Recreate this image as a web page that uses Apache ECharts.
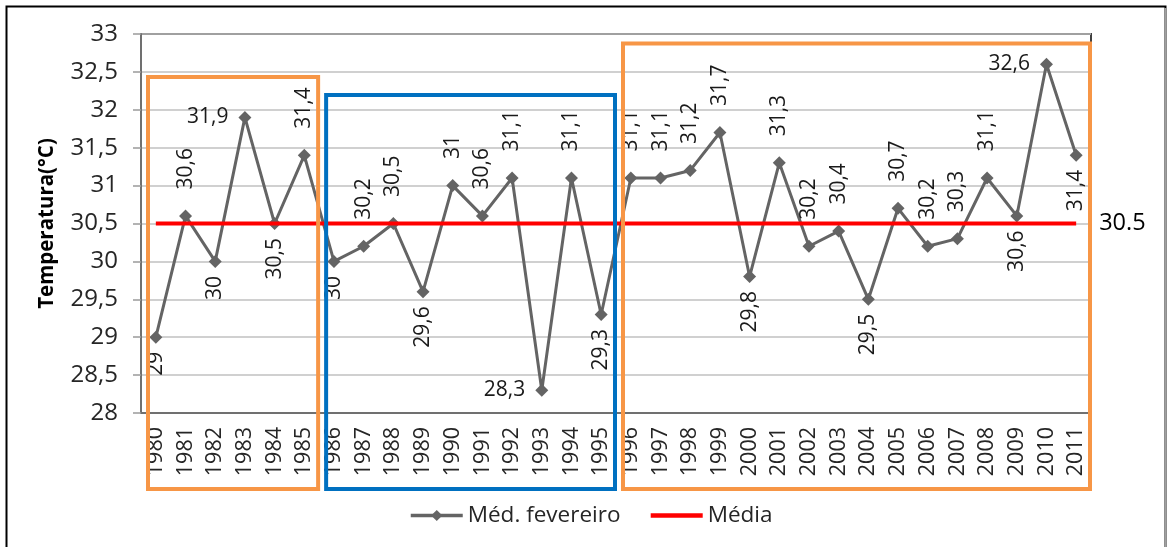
<!DOCTYPE html>
<html>
<head>
<meta charset="utf-8">
<script src="https://cdn.jsdelivr.net/npm/echarts@6/dist/echarts.min.js"></script>
<style>
  html, body { margin: 0; padding: 0; background: #ffffff; }
  #chart { width: 1167px; height: 547px; }
</style>
</head>
<body>
<div id="chart"></div>
<script>
// Anos da série
const years = ['1980', '1981', '1982', '1983', '1984', '1985', '1986', '1987', '1988', '1989',
  '1990', '1991', '1992', '1993', '1994', '1995', '1996', '1997', '1998', '1999',
  '2000', '2001', '2002', '2003', '2004', '2005', '2006', '2007', '2008', '2009',
  '2010', '2011'];

// Temperatura média de fevereiro (°C)
const medFevereiro = [29, 30.6, 30, 31.9, 30.5, 31.4, 30, 30.2, 30.5, 29.6,
  31, 30.6, 31.1, 28.3, 31.1, 29.3, 31.1, 31.1, 31.2, 31.7,
  29.8, 31.3, 30.2, 30.4, 29.5, 30.7, 30.2, 30.3, 31.1, 30.6,
  32.6, 31.4];

// Média do período (°C)
const mediaPeriodo = 30.5;

// Eixo Y
const yMin = 28;
const yMax = 33;
const yStep = 0.5;

// Períodos destacados
const periodos = [
  { inicio: '1980', fim: '1985', cor: '#F79646' },
  { inicio: '1986', fim: '1995', cor: '#0070C0' },
  { inicio: '1996', fim: '2011', cor: '#F79646' }
];

// Onde fica cada rótulo de valor: acima, abaixo ou à esquerda do ponto
const rotuloAbaixo = ['1980', '1982', '1984', '1986', '1989', '1995', '2000', '2004', '2009', '2011'];
const rotuloEsquerda = ['1983', '1993', '2010'];

const fmt = v => String(v).replace('.', ',');
const FONT = '"Open Sans", "Liberation Sans", sans-serif';

const labelUp = { position: 'top', distance: 20, rotate: 90, align: 'left', verticalAlign: 'middle' };
const labelDown = { position: 'bottom', distance: 8, rotate: 90, align: 'right', verticalAlign: 'middle' };
const labelLeft = { position: 'left', distance: 10, rotate: 0, align: 'right', verticalAlign: 'middle' };

const serieData = medFevereiro.map((v, i) => {
  const y = years[i];
  let lab = labelUp;
  if (rotuloAbaixo.includes(y)) lab = labelDown;
  else if (rotuloEsquerda.includes(y)) lab = labelLeft;
  return { value: v, label: Object.assign({}, lab) };
});

const chart = echarts.init(document.getElementById('chart'), null, { renderer: 'canvas' });

chart.setOption({
  animation: false,
  backgroundColor: '#ffffff',
  textStyle: { fontFamily: FONT },
  grid: {
    left: 141, right: 76, top: 34, bottom: 134,
    show: true, borderColor: '#404040', borderWidth: 2
  },
  legend: {
    left: 404, top: 499,
    itemWidth: 52, itemHeight: 14, itemGap: 28,
    textStyle: { fontFamily: FONT, fontSize: 22.5, color: '#262626' },
    data: [
      { name: 'Méd. fevereiro', lineStyle: { width: 3.5 } },
      { name: 'Média', itemStyle: { opacity: 0 }, lineStyle: { width: 4.5 } }
    ]
  },
  xAxis: {
    type: 'category',
    data: years,
    boundaryGap: true,
    axisLine: { lineStyle: { color: '#707070', width: 2 } },
    axisTick: { show: false },
    axisLabel: { interval: 0, rotate: 90, margin: 14, fontSize: 21.5, color: '#262626', fontFamily: FONT }
  },
  yAxis: {
    type: 'value',
    min: yMin, max: yMax, interval: yStep,
    name: 'Temperatura(°C)',
    nameLocation: 'middle',
    nameGap: 83,
    nameTextStyle: { fontSize: 20.5, fontWeight: 'bold', color: '#000000', fontFamily: FONT },
    axisLine: { show: true, lineStyle: { color: '#707070', width: 2 } },
    axisTick: { show: true, length: 8, lineStyle: { color: '#9a9a9a', width: 1.5 } },
    axisLabel: { margin: 23, fontSize: 24, color: '#262626', fontFamily: FONT, formatter: v => fmt(v) },
    splitLine: { show: true, lineStyle: { color: '#c0c0c0', width: 1.5 } }
  },
  series: [
    {
      name: 'Méd. fevereiro',
      type: 'line',
      data: serieData,
      symbol: 'diamond',
      symbolSize: 13,
      lineStyle: { color: '#646464', width: 3 },
      itemStyle: { color: '#646464' },
      label: {
        show: true,
        fontSize: 21,
        color: '#1a1a1a',
        fontFamily: FONT,
        formatter: p => fmt(p.value)
      },
      z: 3
    },
    {
      name: 'Média',
      type: 'line',
      data: years.map(() => mediaPeriodo),
      symbol: 'none',
      lineStyle: { color: '#FF0000', width: 4 },
      itemStyle: { color: '#FF0000' },
      endLabel: {
        show: true,
        formatter: () => String(mediaPeriodo),
        distance: 23,
        fontSize: 23.5,
        color: '#000000',
        fontFamily: FONT
      },
      z: 4
    }
  ]
});

// Molduras dos períodos e contorno da figura
const px = i => chart.convertToPixel({ xAxisIndex: 0 }, i);
const step = px(1) - px(0);
const topos = [77, 95, 43.5];
const base = 489;
const graphics = periodos.map((p, k) => {
  const i0 = years.indexOf(p.inicio);
  const i1 = years.indexOf(p.fim);
  const x0 = px(i0) - step / 2 + 7;
  const x1 = px(i1) + step / 2 - 1;
  return {
    type: 'rect',
    z: 100,
    shape: { x: x0, y: topos[k], width: x1 - x0, height: base - topos[k] },
    style: { fill: null, stroke: p.cor, lineWidth: 4 }
  };
});
graphics.push({
  type: 'rect', z: 100,
  shape: { x: 6.5, y: 6.5, width: 1159, height: 600 },
  style: { fill: null, stroke: '#000000', lineWidth: 2 }
});
graphics.push({
  type: 'line', z: 101,
  shape: { x1: 1165.5, y1: 8, x2: 1165.5, y2: 547 },
  style: { stroke: '#a0a0a0', lineWidth: 2 }
});
chart.setOption({ graphic: graphics });
</script>
</body>
</html>
